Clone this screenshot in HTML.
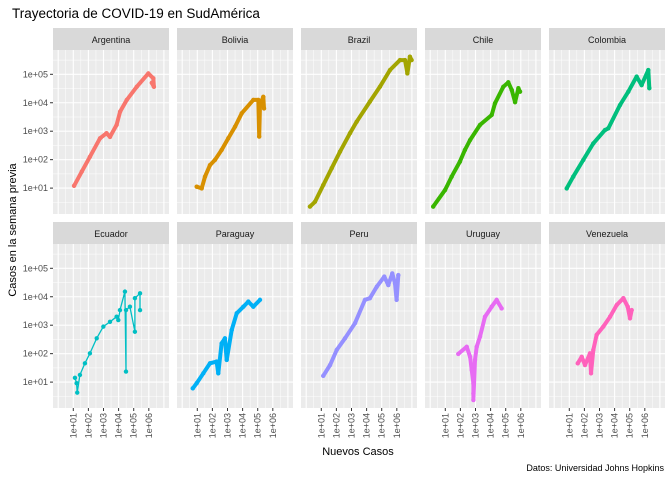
<!DOCTYPE html>
<html><head><meta charset="utf-8"><style>
body{margin:0;background:#fff}
svg{display:block;font-family:"Liberation Sans",sans-serif}
</style></head><body>
<svg id="chart" width="672" height="480">
<text x="12" y="18" font-size="13.5" fill="#000">Trayectoria de COVID-19 en SudAmérica</text>
<text x="358" y="455" font-size="11" text-anchor="middle" fill="#000">Nuevos Casos</text>
<text transform="translate(16,230) rotate(-90)" font-size="11" text-anchor="middle" fill="#000">Casos en la semana previa</text>
<text x="664" y="471" font-size="9" text-anchor="end" fill="#000">Datos: Universidad Johns Hopkins</text>
<g id="panels"></g>
</svg>
<script>
const countries = ["Argentina","Bolivia","Brazil","Chile","Colombia","Ecuador","Paraguay","Peru","Uruguay","Venezuela"];
const colors = ["#F8766D","#D89000","#A3A500","#39B600","#00BF7D","#00BFC4","#00B0F6","#9590FF","#E76BF3","#FF62BC"];
const xTickLabels = ["1e+01","1e+02","1e+03","1e+04","1e+05","1e+06"];
const yTickLabels = ["1e+01","1e+02","1e+03","1e+04","1e+05"];
// log10 of cumulative cases (x) and weekly cases (y)
const argLogX = [1.05,1.56,2.1,2.77,3.2,3.43,3.87,4.1,4.54,5.2,5.97,6.3,6.34,6.2];
const argLogY = [1.08,1.58,2.1,2.75,2.93,2.8,3.22,3.69,4.1,4.56,5.03,4.86,4.56,4.7];
const bolLogX = [0.96,1.29,1.51,1.84,2.17,2.61,3.05,3.5,3.94,4.71,5.04,5.1,5.15,5.37,5.42];
const bolLogY = [1.05,0.99,1.4,1.81,1.99,2.34,2.75,3.16,3.63,4.1,4.1,2.81,3.92,4.21,3.8];
const braLogX = [0.25,0.58,1.13,1.69,2.24,2.9,3.34,4.22,4.88,5.55,6.21,6.54,6.7,6.87,6.98];
const braLogY = [0.35,0.52,1.11,1.7,2.28,2.93,3.33,4.04,4.56,5.15,5.5,5.5,5.03,5.62,5.5];
const chiLogX = [0.2,0.98,1.42,1.97,2.3,2.64,3.3,4.07,4.29,4.84,5.17,5.4,5.62,5.84,5.95];
const chiLogY = [0.35,0.93,1.4,1.93,2.34,2.69,3.22,3.57,3.98,4.56,4.72,4.45,4.02,4.51,4.39];
const colLogX = [0.83,1.26,1.93,2.59,3.36,3.58,4.36,4.91,5.46,5.79,6.23,6.3];
const colLogY = [0.99,1.4,1.99,2.57,3.04,3.1,3.92,4.39,4.92,4.62,5.15,4.51];
const ecuLogX = [1.11,1.22,1.26,1.44,1.77,2.1,2.55,2.99,3.43,3.87,3.98,4.09,4.42,4.49,4.49,4.75,5.08,5.08,5.42,5.42];
const ecuLogY = [1.15,0.96,0.63,1.25,1.66,2.01,2.54,2.95,3.12,3.3,3.18,3.53,4.18,1.37,3.53,3.65,2.77,3.95,4.12,3.53];
const parLogX = [0.7,0.96,1.4,1.84,2.28,2.39,2.61,2.83,2.95,3.28,3.61,4.05,4.38,4.71,5.15];
const parLogY = [0.78,0.96,1.31,1.66,1.72,1.31,2.36,2.54,1.78,2.83,3.42,3.65,3.83,3.65,3.89];
const perLogX = [1.13,1.58,2.02,2.57,3.23,3.89,4.22,4.67,5.17,5.44,5.7,5.88,5.99,6.1];
const perLogY = [1.22,1.6,2.13,2.54,3.07,3.89,3.95,4.35,4.71,4.41,4.82,4.47,3.89,4.76];
const uruLogX = [1.86,2.42,2.64,2.75,2.86,2.86,2.86,2.97,3.08,3.3,3.63,4.07,4.4,4.73];
const uruLogY = [1.99,2.24,1.89,1.43,0.95,0.6,0.37,1.78,2.24,2.6,3.3,3.65,3.89,3.59];
const venLogX = [1.56,1.82,2.04,2.37,2.44,2.59,2.81,3.25,3.7,4.14,4.58,4.87,5.02,5.13];
const venLogY = [1.66,1.89,1.6,2.01,1.31,2.13,2.66,2.95,3.3,3.71,3.95,3.65,3.24,3.53];
const seriesX = [argLogX,bolLogX,braLogX,chiLogX,colLogX,ecuLogX,parLogX,perLogX,uruLogX,venLogX];
const seriesY = [argLogY,bolLogY,braLogY,chiLogY,colLogY,ecuLogY,parLogY,perLogY,uruLogY,venLogY];

const NS="http://www.w3.org/2000/svg";
const root=document.getElementById('panels');
function mk(tag,attrs,parent){const e=document.createElementNS(NS,tag);for(const k in attrs)e.setAttribute(k,attrs[k]);parent.appendChild(e);return e;}
const PW=116, STEP=124, LEFT0=53;
const rowsTop=[[28,50],[222,244]], PH=164;
const xScale=(l,left)=>left+20.3+(l-1)*15.1;
const yScale=(l,top)=>top+24.3+(5-l)*28.45;

countries.forEach((c,i)=>{
  const col=i%5,row=Math.floor(i/5);
  const left=LEFT0+col*STEP, st=rowsTop[row][0], top=rowsTop[row][1];
  const g=mk('g',{},root);
  
  
  const strip=mk('rect',{x:left,y:st,width:PW,height:top-st,fill:'#D9D9D9'},g);
  
  
  const t=mk('text',{x:left+PW/2,y:st+15,'font-size':9,'text-anchor':'middle',fill:'#1A1A1A'},g);
  t.textContent=c;
  
  
  const bg=mk('rect',{x:left,y:top,width:PW,height:PH,fill:'#EBEBEB'},g);
  
  
  for(let v=-0.5;v<=7.5;v+=0.5){const x=xScale(v,left);if(x<left||x>left+PW)continue;
    mk('line',{x1:x,x2:x,y1:top,y2:top+PH,stroke:'#fff','stroke-width':Number.isInteger(v)?1.1:0.5},g);}
  for(let v=0;v<=6;v+=0.5){const y=yScale(v,top);if(y<top||y>top+PH)continue;
    mk('line',{x1:left,x2:left+PW,y1:y,y2:y,stroke:'#fff','stroke-width':Number.isInteger(v)?1.1:0.5},g);}
  const xs=seriesX[i],ys=seriesY[i];
  const pts=xs.map((v,k)=>xScale(v,left).toFixed(1)+','+yScale(ys[k],top).toFixed(1)).join(' ');
  const thick=(i===5)?1.3:4;
  const pl=mk('polyline',{points:pts,fill:'none',stroke:colors[i],'stroke-width':thick,'stroke-linejoin':'round','stroke-linecap':'round'},g);
  
  
  xs.forEach((v,k)=>{
    const p=mk('circle',{cx:xScale(v,left),cy:yScale(ys[k],top),r:2.2,fill:colors[i]},g);
    
    
  });
  if(col===0){
    yTickLabels.forEach((lab,k)=>{const y=yScale(k+1,top);
      mk('line',{x1:left-3,x2:left,y1:y,y2:y,stroke:'#333','stroke-width':1},g);
      const tl=mk('text',{x:left-5,y:y+3,'font-size':9,'text-anchor':'end',fill:'#4D4D4D'},g);
      tl.textContent=lab;
      
      });
  }
  if(row===1){
    const bottom=top+PH;
    xTickLabels.forEach((lab,k)=>{const x=xScale(k+1,left);
      mk('line',{x1:x,x2:x,y1:bottom,y2:bottom+3,stroke:'#333','stroke-width':1},g);
      const tl=mk('text',{transform:'translate('+(x+3)+','+(bottom+5)+') rotate(-90)','font-size':9,'text-anchor':'end',fill:'#4D4D4D'},g);
      tl.textContent=lab;
      
      });
  }
});
</script>
</body></html>
